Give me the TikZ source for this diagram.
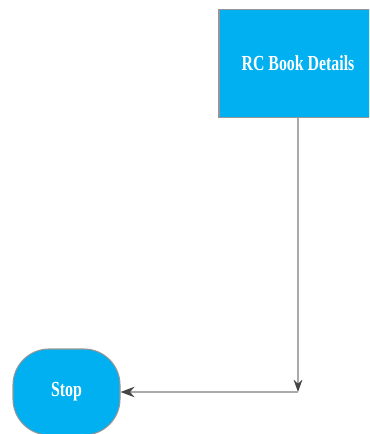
\documentclass[tikz,border=0pt]{standalone}
\usepackage{fontspec}
\setmainfont{Liberation Serif}
\newfontfamily\narrowserif[FakeStretch=0.74]{Liberation Serif}
\usetikzlibrary{arrows.meta,positioning}
\definecolor{blkfill}{RGB}{0,176,240}
\definecolor{blkbdr}{RGB}{150,150,150}
\definecolor{lineclr}{RGB}{170,170,170}
\definecolor{tipclr}{RGB}{70,70,70}
\tikzset{
  procblk/.style={rectangle,draw=blkbdr,fill=blkfill,line width=0.8pt,
    minimum width=3.16cm,minimum height=2.16cm,
    font=\narrowserif\fontsize{12.2}{14}\selectfont\bfseries,text=white,align=center,inner sep=2pt},
  termblk/.style={rectangle,rounded corners=0.72cm,draw=blkbdr,fill=blkfill,line width=0.6pt,
    minimum width=2.14cm,minimum height=1.72cm,
    font=\narrowserif\fontsize{12.2}{14}\selectfont\bfseries,text=white,align=center,inner sep=2pt},
  arr/.style={line width=0.9pt,color=lineclr},
}
\begin{document}
\begin{tikzpicture}
  \clip (0,0) rectangle (7.38,8.68);
  \useasboundingbox (0,0) rectangle (7.38,8.68);
  \node[procblk] (rcbook) at (5.96,7.41) {RC Book Details};
  \node[termblk] (stop)   at (1.33,0.84) {Stop};
  \coordinate (bend) at (5.96,0.84);

  \draw[arr,-{Stealth[length=7pt,width=5pt,color=tipclr]}] (rcbook.south) -- (bend);
  \draw[arr,-{Stealth[length=8pt,width=6pt,color=tipclr]}] (bend) -- (stop.east);
\end{tikzpicture}
\end{document}
